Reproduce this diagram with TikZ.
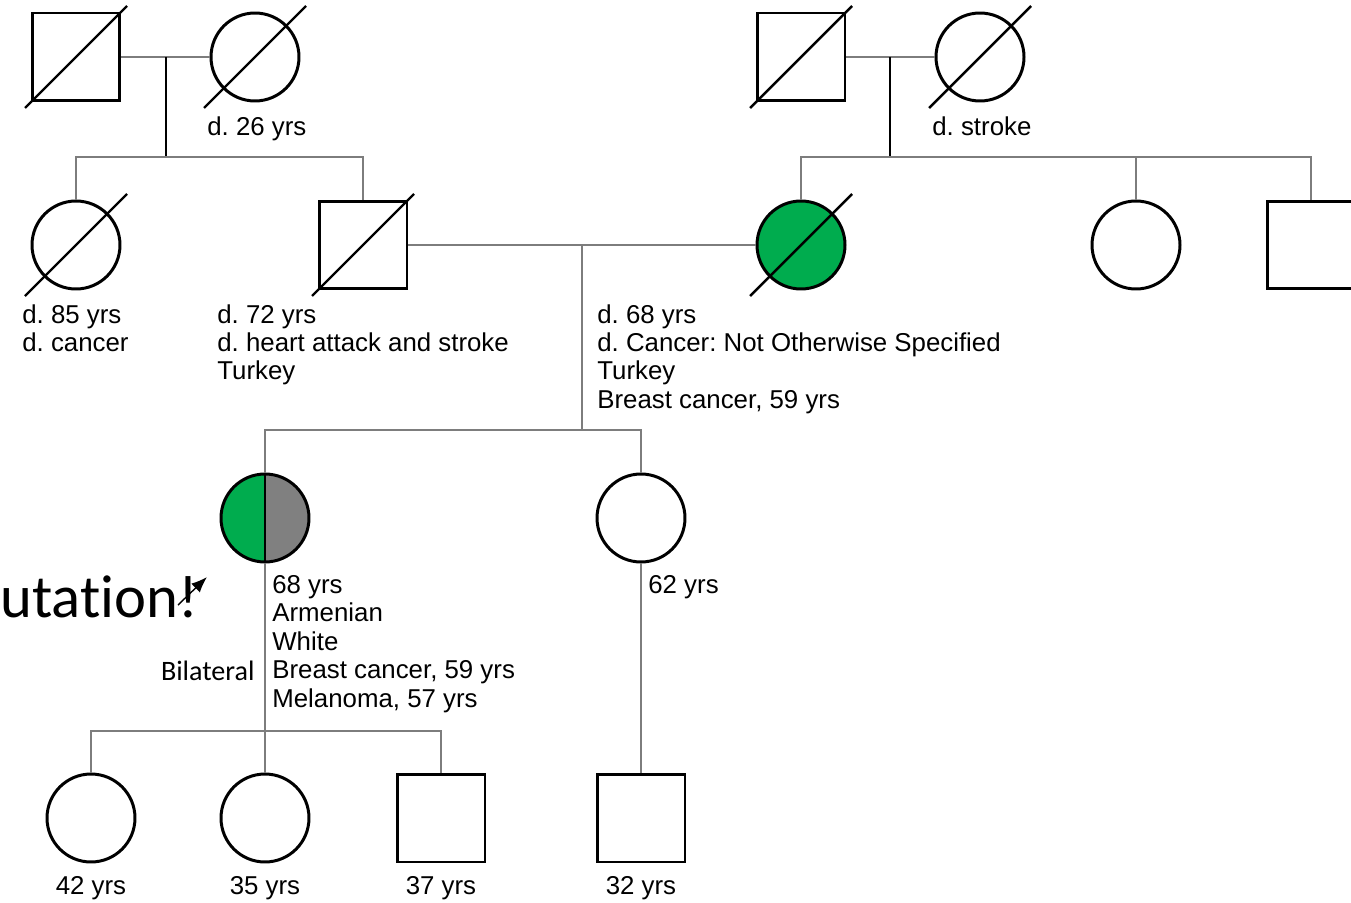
\documentclass[tikz,border=0pt]{standalone}
\usepackage{fontspec}
\setmainfont{Liberation Sans}
\newfontfamily\calib[Ligatures=NoCommon]{Carlito}
\usetikzlibrary{arrows.meta}
\definecolor{affgreen}{RGB}{0,172,78}
\definecolor{affgray}{RGB}{128,128,128}
\definecolor{linegray}{RGB}{125,125,125}
\frenchspacing

\begin{document}
\begin{tikzpicture}[x=0.02cm, y=-0.02cm,
    male/.style = {draw, rectangle, line width=1.7pt, minimum size=1.76cm, inner sep=0pt},
    female/.style = {draw, circle, line width=1.7pt, minimum size=1.76cm, inner sep=0pt},
    rel/.style = {draw=linegray, line width=1.1pt},
    drop/.style = {line width=0.9pt},
    dead/.style = {line width=1.4pt},
    info/.style = {anchor=north west, align=left, inner sep=0pt, font=\fontsize{14.7}{16.2}\selectfont},
    age/.style = {anchor=base, inner sep=0pt, font=\fontsize{14.7}{16.2}\selectfont}]
    \useasboundingbox (0,0) rectangle (1351,902);

    % grandparents
    \node[male] (pgf) at (76,57) {};
    \node[female] (pgm) at (255,57) {};
    \node[male] (mgf) at (801,57) {};
    \node[female] (mgm) at (980,57) {};

    % parents, aunts, uncle
    \node[female] (paunt) at (76,245) {};
    \node[male] (father) at (363,245) {};
    \node[female, fill=affgreen] (mother) at (801,245) {};
    \node[female] (maunt) at (1136,245) {};
    \node[male] (muncle) at (1311,245) {};

    % proband and sister
    \node[female, path picture={
        \fill[affgreen] (path picture bounding box.south west) rectangle (path picture bounding box.north);
        \fill[affgray] (path picture bounding box.south) rectangle (path picture bounding box.north east);
        \draw[line width=1.1pt] (path picture bounding box.south) -- (path picture bounding box.north);
    }] (proband) at (265,518) {};
    \node[female] (sister) at (641,518) {};

    % children
    \node[female] (dau1) at (91,818) {};
    \node[female] (dau2) at (265,818) {};
    \node[male] (son1) at (441,818) {};
    \node[male] (nephew) at (641,818) {};

    \coordinate (c1) at (166,57);
    \coordinate (s1) at (166,157);
    \coordinate (c2) at (890,57);
    \coordinate (s2) at (890,157);
    \coordinate (c3) at (582,245);
    \coordinate (s3) at (582,430);
    \coordinate (s4) at (265,731);

    \draw[rel] (pgf.east) -- (pgm.west);
    \draw[drop] (c1) -- (s1);
    \draw[rel] (paunt.north) |- (s1) -| (father.north);

    \draw[rel] (mgf.east) -- (mgm.west);
    \draw[drop] (c2) -- (s2);
    \draw[rel] (mother.north) |- (s2) -| (muncle.north);
    \draw[rel] (s2) -| (maunt.north);

    \draw[rel] (father.east) -- (mother.west);
    \draw[rel] (c3) -- (s3);
    \draw[rel] (proband.north) |- (s3) -| (sister.north);

    \draw[rel] (proband.south) -- (dau2.north);
    \draw[rel] (dau1.north) |- (s4) -| (son1.north);
    \draw[rel] (sister.south) -- (nephew.north);

    % deceased
    \def\dl{51}
    \draw[dead] ([shift={(-\dl,\dl)}]pgf.center) -- ([shift={(\dl,-\dl)}]pgf.center);
    \draw[dead] ([shift={(-\dl,\dl)}]pgm.center) -- ([shift={(\dl,-\dl)}]pgm.center);
    \draw[dead] ([shift={(-\dl,\dl)}]mgf.center) -- ([shift={(\dl,-\dl)}]mgf.center);
    \draw[dead] ([shift={(-\dl,\dl)}]mgm.center) -- ([shift={(\dl,-\dl)}]mgm.center);
    \draw[dead] ([shift={(-\dl,\dl)}]paunt.center) -- ([shift={(\dl,-\dl)}]paunt.center);
    \draw[dead] ([shift={(-\dl,\dl)}]father.center) -- ([shift={(\dl,-\dl)}]father.center);
    \draw[dead] ([shift={(-\dl,\dl)}]mother.center) -- ([shift={(\dl,-\dl)}]mother.center);

    % labels
    \node[info] (pgmtxt) at (207,116) {d. 26 yrs};
    \node[info] (mgmtxt) at (932,116) {d. stroke};
    \node[info] (paunttxt) at (22,304) {d. 85 yrs\\d. cancer};
    \node[info] (fathertxt) at (217,304) {d. 72 yrs\\d. heart attack and stroke\\Turkey};
    \node[info] (mothertxt) at (597,304) {d. 68 yrs\\d. Cancer: Not Otherwise Specified\\Turkey\\Breast cancer, 59 yrs};
    \node[info] (probandtxt) at (272,575) {68 yrs\\Armenian\\White\\Breast cancer, 59 yrs\\Melanoma, 57 yrs};
    \node[info] (sistertxt) at (648,575) {62 yrs};
    \node[age] (dau1txt) at (91,894) {42 yrs};
    \node[age] (dau2txt) at (265,894) {35 yrs};
    \node[age] (son1txt) at (441,894) {37 yrs};
    \node[age] (nephewtxt) at (641,894) {32 yrs};
    \node[anchor=base east, inner sep=0pt, font=\calib\fontsize{16}{18}\selectfont] (bilat) at (255,680) {Bilateral};

    % cut-off slide text
    \node[anchor=base west, inner sep=0pt, font=\calib\fontsize{34.5}{40}\selectfont] (mut) at (0,617) {utation!};
    \coordinate (arrfrom) at (178,605);
    \coordinate (arrto) at (207,577);
    \draw[line width=0.8pt, -{Latex[length=9pt, width=7pt]}] (arrfrom) -- (arrto);
\end{tikzpicture}
\end{document}
